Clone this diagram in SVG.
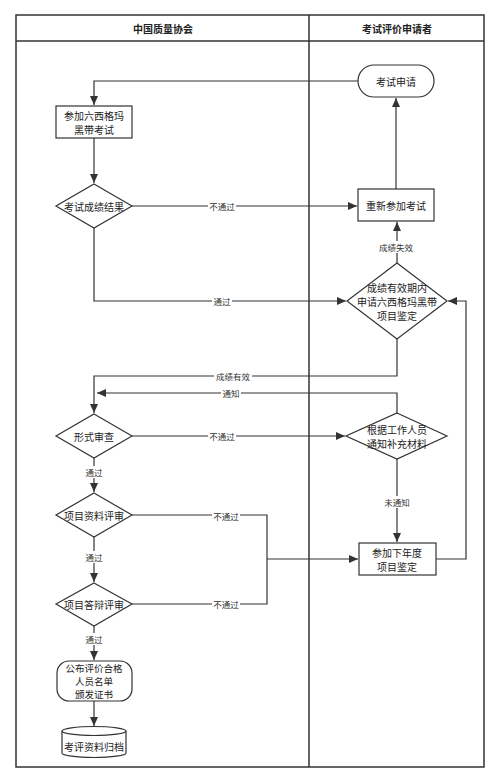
<svg xmlns="http://www.w3.org/2000/svg" width="500" height="783" viewBox="0 0 500 783">
<style>
.frame{fill:none;stroke:#333;stroke-width:1.5}
.node{fill:#fff;stroke:#333;stroke-width:1.2}
.t{font-family:"Noto Sans CJK SC","Noto Sans",sans-serif;font-size:10px;fill:#222;text-anchor:middle;dominant-baseline:central}
.s{font-size:9.5px}
.h{font-weight:bold}
.lbl{font-family:"Noto Sans CJK SC","Noto Sans",sans-serif;font-size:8.5px;fill:#333;text-anchor:middle;dominant-baseline:central}
.bg{fill:#fff}
.c{fill:none;stroke:#333;stroke-width:1.2}
</style>
<defs>
<marker id="arr" markerUnits="userSpaceOnUse" markerWidth="10" markerHeight="8" refX="9" refY="4" orient="auto">
<path d="M0,0 L9,4 L0,8 z" fill="#333"/>
</marker>
</defs>
<rect width="500" height="783" fill="#fff"/>
<g id="lanes">
<rect class="frame" x="16" y="15" width="468" height="752"/>
<line class="frame" x1="16" y1="41" x2="484" y2="41"/>
<line class="frame" x1="309" y1="15" x2="309" y2="767"/>
<text class="t h" x="163" y="28">中国质量协会</text>
<text class="t h" x="397" y="28">考试评价申请者</text>
</g>
<g id="connectors">
<path class="c" d="M358,81 H94 V105" marker-end="url(#arr)"/>
<path class="c" d="M94,138 V183" marker-end="url(#arr)"/>
<path class="c" d="M132,206 H357" marker-end="url(#arr)"/>
<path class="c" d="M396,189 V98" marker-end="url(#arr)"/>
<path class="c" d="M397,263 V222" marker-end="url(#arr)"/>
<path class="c" d="M94,228 V301 H346" marker-end="url(#arr)"/>
<path class="c" d="M397,339 V376 H94 V413" marker-end="url(#arr)"/>
<path class="c" d="M397,414 V393 H97" marker-end="url(#arr)"/>
<path class="c" d="M132,436 H345" marker-end="url(#arr)"/>
<path class="c" d="M397,458 V542" marker-end="url(#arr)"/>
<path class="c" d="M436,559 H466 V301 H448" marker-end="url(#arr)"/>
<path class="c" d="M94,458 V492" marker-end="url(#arr)"/>
<path class="c" d="M132,515 H267 V604 H132"/>
<path class="c" d="M267,559 H358" marker-end="url(#arr)"/>
<path class="c" d="M94,537 V582" marker-end="url(#arr)"/>
<path class="c" d="M94,626 V660" marker-end="url(#arr)"/>
<path class="c" d="M94,701 V726" marker-end="url(#arr)"/>
<g id="labels">
<rect class="bg" x="208" y="200" width="28" height="12"/><text class="lbl" x="222" y="206">不通过</text>
<rect class="bg" x="377" y="241" width="38" height="12"/><text class="lbl" x="396" y="247">成绩失效</text>
<rect class="bg" x="212" y="295" width="20" height="12"/><text class="lbl" x="222" y="301">通过</text>
<rect class="bg" x="214" y="370" width="38" height="12"/><text class="lbl" x="233" y="376">成绩有效</text>
<rect class="bg" x="221" y="387" width="20" height="12"/><text class="lbl" x="231" y="393">通知</text>
<rect class="bg" x="208" y="430" width="28" height="12"/><text class="lbl" x="222" y="436">不通过</text>
<rect class="bg" x="383" y="496" width="28" height="12"/><text class="lbl" x="397" y="502">未通知</text>
<rect class="bg" x="84" y="466" width="20" height="12"/><text class="lbl" x="94" y="472">通过</text>
<rect class="bg" x="212" y="510" width="28" height="12"/><text class="lbl" x="226" y="516">不通过</text>
<rect class="bg" x="84" y="551" width="20" height="12"/><text class="lbl" x="94" y="557">通过</text>
<rect class="bg" x="212" y="598" width="28" height="12"/><text class="lbl" x="226" y="604">不通过</text>
<rect class="bg" x="84" y="633" width="20" height="12"/><text class="lbl" x="94" y="639">通过</text>
</g>
</g>
<g id="n-exam-apply">
<rect class="node" x="358" y="65" width="76" height="32" rx="16"/>
<text class="t" x="396" y="81">考试申请</text>
</g>
<g id="n-take-exam">
<rect class="node" x="56" y="106" width="76" height="32"/>
<text class="t" x="94" y="115">参加六西格玛</text>
<text class="t" x="94" y="129">黑带考试</text>
</g>
<g id="n-result">
<polygon class="node" points="94,184 132,206 94,228 56,206"/>
<text class="t" x="94" y="206">考试成绩结果</text>
</g>
<g id="n-retake">
<rect class="node" x="358" y="189" width="76" height="32"/>
<text class="t" x="396" y="205">重新参加考试</text>
</g>
<g id="n-valid">
<polygon class="node" points="397,263 447,301 397,339 347,301"/>
<text class="t" x="397" y="287">成绩有效期内</text>
<text class="t" x="397" y="301">申请六西格玛黑带</text>
<text class="t" x="397" y="315">项目鉴定</text>
</g>
<g id="n-formal">
<polygon class="node" points="94,414 132,436 94,458 56,436"/>
<text class="t" x="94" y="436">形式审查</text>
</g>
<g id="n-supplement">
<polygon class="node" points="397,413 447,436 397,459 346,436"/>
<text class="t" x="397" y="429">根据工作人员</text>
<text class="t" x="397" y="443">通知补充材料</text>
</g>
<g id="n-material">
<polygon class="node" points="94,493 132,515 94,537 56,515"/>
<text class="t" x="94" y="515">项目资料评审</text>
</g>
<g id="n-next-year">
<rect class="node" x="359" y="543" width="77" height="32"/>
<text class="t" x="397" y="552">参加下年度</text>
<text class="t" x="397" y="566">项目鉴定</text>
</g>
<g id="n-defense">
<polygon class="node" points="94,583 132,604 94,626 56,604"/>
<text class="t" x="94" y="604">项目答辩评审</text>
</g>
<g id="n-publish">
<rect class="node" x="57" y="661" width="75" height="40" rx="12"/>
<text class="t s" x="94" y="668">公布评价合格</text>
<text class="t s" x="94" y="681">人员名单</text>
<text class="t s" x="94" y="694">颁发证书</text>
</g>
<g id="n-archive">
<path class="node" d="M62,731 A32,4.5 0 0 1 126,731 V753 A32,4.5 0 0 1 62,753 Z"/>
<path class="node" fill="none" d="M62,731 A32,4.5 0 0 0 126,731"/>
<text class="t" x="94" y="746">考评资料归档</text>
</g>
</svg>
